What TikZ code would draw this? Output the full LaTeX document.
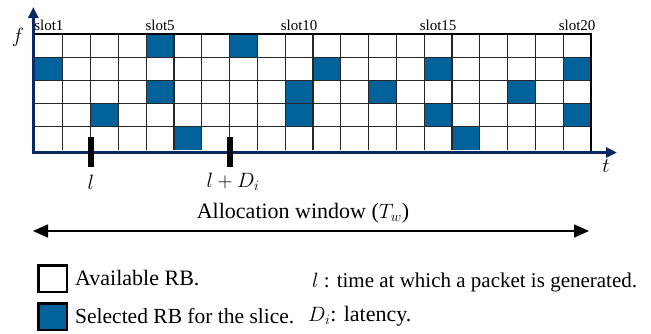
\documentclass[tikz,border=0pt]{standalone}
\usepackage{fontspec}
\setmainfont{Liberation Serif}[Ligatures=TeX]
\newfontfamily\tnr{Liberation Serif}
\usetikzlibrary{arrows.meta}
\definecolor{cellblue}{HTML}{00629B}
\definecolor{axisnavy}{HTML}{0A2864}
\tikzset{
  gridline/.style={line width=1.3pt, black!85},
  axisline/.style={line width=3.4pt, axisnavy, -{Triangle[length=11pt,width=10pt]}},
  slotlabel/.style={font=\tnr\fontsize{15}{17}\selectfont, anchor=base, inner sep=0pt},
  marker/.style={fill=black},
  txt/.style={font=\tnr\fontsize{22}{26}\selectfont, inner sep=0pt},
  mathlab/.style={font=\fontsize{21}{25}\selectfont, inner sep=0pt},
  legendbox/.style={draw=black, line width=2.4pt},
}
\begin{document}
\begin{tikzpicture}[x=1pt,y=-1pt]
\useasboundingbox (0,0) rectangle (651,333);
\def\cw{27.8}
\def\ch{23.2}
% blue cells
\foreach \c/\r in {5/1,8/1,1/2,11/2,15/2,20/2,5/3,10/3,13/3,18/3,3/4,10/4,15/4,20/4,6/5,16/5}{
  \fill[cellblue] ({35+(\c-1)*\cw},{34+(\r-1)*\ch}) rectangle ++(\cw,\ch);
}
% grid lines
\foreach \i in {1,...,19}{
  \draw[gridline] ({35+\i*\cw},34) -- ({35+\i*\cw},150);
}
\foreach \j in {1,...,4}{
  \draw[gridline] (35,{34+\j*\ch}) -- (591,{34+\j*\ch});
}
\draw[line width=2.2pt, black] (33,34) -- (591,34) -- (591,151);
% axes
\coordinate (ftip) at (33.3,7);
\coordinate (ttip) at (617,152.5);
\draw[axisline] (33.3,154) -- (ftip);
\draw[axisline] (31.6,152.5) -- (ttip);
\node[mathlab] (flab) at (18,37) {$f$};
\node[mathlab] (tlab) at (606,166) {$t$};
% slot labels
\node[slotlabel] (s1) at ({35+0.5*\cw},30.5) {slot1};
\node[slotlabel] (s5) at ({35+4.5*\cw},30.5) {slot5};
\node[slotlabel] (s10) at ({35+9.5*\cw},30.5) {slot10};
\node[slotlabel] (s15) at ({35+14.5*\cw},30.5) {slot15};
\node[slotlabel] (s20) at ({35+19.5*\cw},30.5) {slot20};
% markers
\fill[marker] (88,136.5) rectangle (94,166.5);
\fill[marker] (226.5,136.5) rectangle (232.5,166.5);
\node[mathlab] (llab) at (91,182) {$l$};
\node[mathlab] (ldlab) at (233,182) {$l+D_i$};
% allocation window
\node[txt] (alloc) at (303,213) {Allocation window ($T_w$)};
\coordinate (wl) at (33,231);
\coordinate (wr) at (589,231);
\draw[line width=1.4pt, {Triangle[length=15pt,width=13pt]}-{Triangle[length=15pt,width=13pt]}] (wl) -- (wr);
% legend
\draw[legendbox, fill=white] (38.5,265.5) rectangle (67,292);
\draw[legendbox, fill=cellblue] (38.5,303.5) rectangle (67,330);
\node[txt, anchor=west] (avail) at (75,278.5) {Available RB.};
\node[txt, font=\tnr\fontsize{21.5}{25}\selectfont, anchor=west] (sel) at (75,316.5) {Selected RB for the slice.};
\node[txt, font=\tnr\fontsize{21}{25}\selectfont, anchor=west] (ldef) at (312,282) {$l$ : time at which a packet is generated.};
\node[txt, anchor=west] (ddef) at (308,316.5) {$D_i$: latency.};
\end{tikzpicture}
\end{document}
